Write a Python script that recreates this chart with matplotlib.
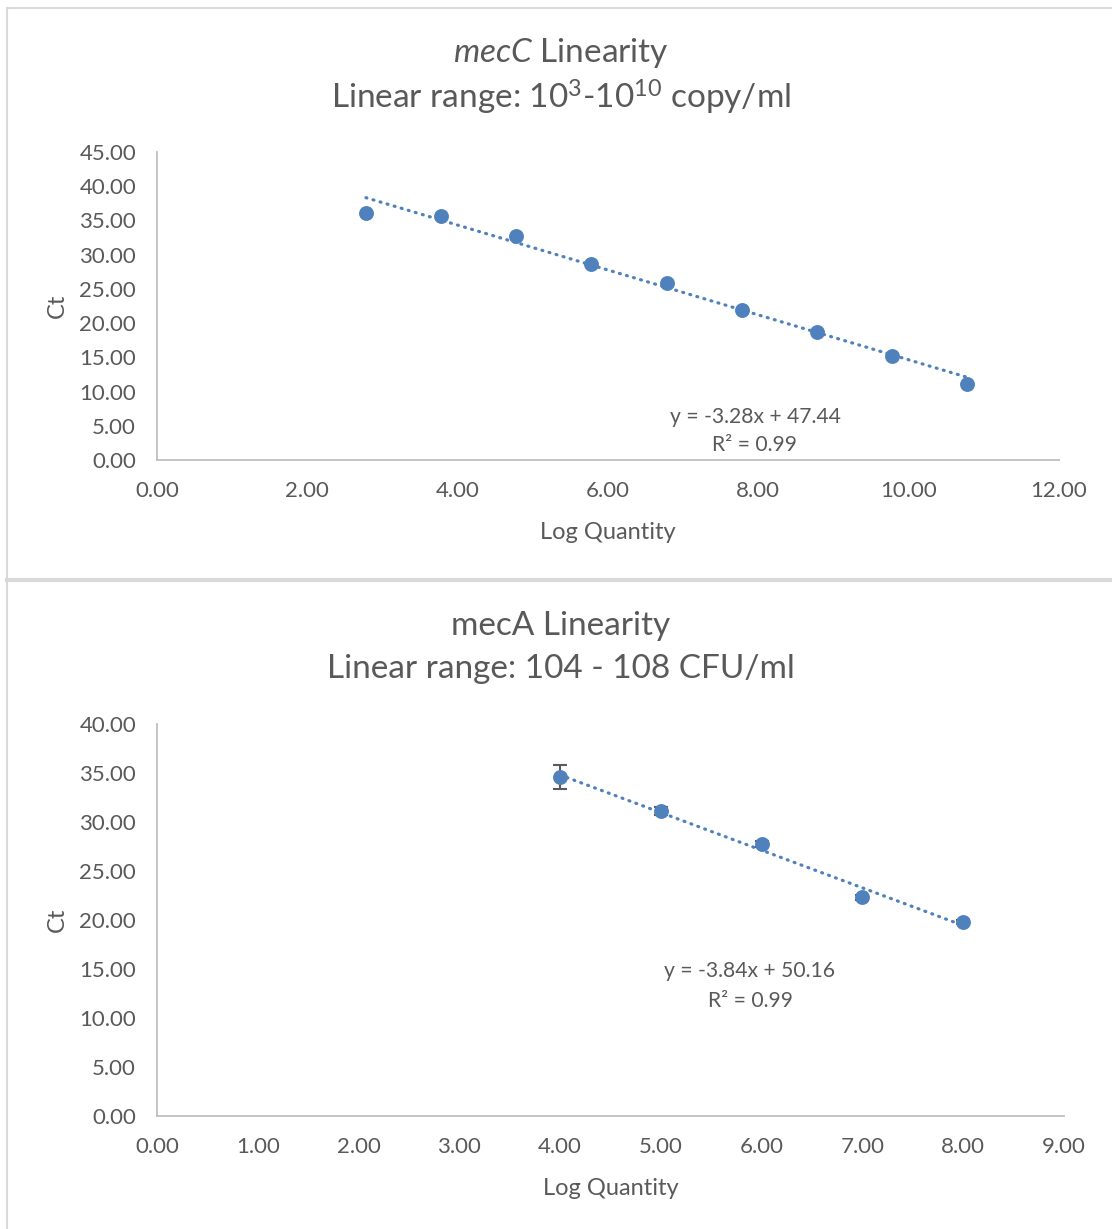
#!/usr/bin/env python3
"""mecC / mecA qPCR linearity standard curves (Excel-style)."""

import matplotlib as mpl
mpl.use("Agg")
import matplotlib.pyplot as plt
from matplotlib.lines import Line2D

# mecC standard curve
mecc_logq = [2.78, 3.78, 4.78, 5.78, 6.78, 7.78, 8.78, 9.78, 10.78]
mecc_ct = [36.1, 35.7, 32.7, 28.7, 25.8, 21.9, 18.7, 15.2, 11.1]
mecc_slope, mecc_icpt = -3.28, 47.44

# mecA standard curve
meca_logq = [4.0, 5.0, 6.0, 7.0, 8.0]
meca_ct = [34.6, 31.1, 27.8, 22.3, 19.8]
meca_err = [1.2, 0.4, 0.3, 0.3, 0.2]
meca_slope, meca_icpt = -3.84, 50.16

W, H = 1112, 1229
GREY_TXT = "#595959"
AXIS = "#BFBFBF"
FRAME = "#D9D9D9"
BLUE = "#4F81BD"

mpl.rcParams.update(
    {
        "font.family": ["Lato", "DejaVu Sans"],
        "mathtext.fontset": "custom",
        "mathtext.rm": "Lato",
        "mathtext.it": "Lato:italic",
        "mathtext.bf": "Lato:bold",
        "text.color": GREY_TXT,
    }
)


def px_axes(fig, left, top, right, bottom):
    return fig.add_axes([left / W, 1 - bottom / H, (right - left) / W, (bottom - top) / H])


def ftext(fig, x, y, s, size, **kw):
    # place text at pixel position (from top-left) of the figure
    fig.text(x / W, 1 - y / H, s, ha="center", va="center", fontsize=size, **kw)


def style(ax, xmax, xstep, ymax, ystep):
    ax.set_xlim(0, xmax)
    ax.set_ylim(0, ymax)
    ax.set_xticks([i * xstep for i in range(int(round(xmax / xstep)) + 1)])
    ax.set_yticks([i * ystep for i in range(int(round(ymax / ystep)) + 1)])
    ax.xaxis.set_major_formatter(mpl.ticker.StrMethodFormatter("{x:.2f}"))
    ax.yaxis.set_major_formatter(mpl.ticker.StrMethodFormatter("{x:.2f}"))
    for s in ("top", "right"):
        ax.spines[s].set_visible(False)
    for s in ("left", "bottom"):
        ax.spines[s].set_color(AXIS)
        ax.spines[s].set_linewidth(1.3)
    ax.tick_params(length=0, labelsize=16, colors=GREY_TXT)
    ax.tick_params(axis="x", pad=15)
    ax.tick_params(axis="y", pad=15)
    ax.set_xlabel("Log Quantity", fontsize=17, color=GREY_TXT, labelpad=15.5)
    ax.set_ylabel("Ct", fontsize=17, color=GREY_TXT, labelpad=8)


def trend(ax, xs, slope, icpt):
    x0, x1 = min(xs), max(xs)
    ax.plot([x0, x1], [slope * x0 + icpt, slope * x1 + icpt], color=BLUE,
            lw=2.3, ls=(0, (0.3, 2.0)), dash_capstyle="round", zorder=2)


fig = plt.figure(figsize=(W / 100, H / 100), dpi=100)

# chart frames
fig.add_artist(Line2D([7 / W, 7 / W], [0, 1 - 8 / H], transform=fig.transFigure,
                      color=FRAME, lw=1.5))
fig.add_artist(Line2D([7 / W, 1], [1 - 8 / H, 1 - 8 / H], transform=fig.transFigure,
                      color=FRAME, lw=1.5))
fig.add_artist(Line2D([7 / W, 1], [1 - 580 / H, 1 - 580 / H], transform=fig.transFigure,
                      color=FRAME, lw=3))

# top: mecC
ax = px_axes(fig, 157, 152, 1059, 460)
style(ax, 12, 2, 45, 5)
trend(ax, mecc_logq, mecc_slope, mecc_icpt)
ax.scatter(mecc_logq, mecc_ct, s=115, color=BLUE, zorder=3, linewidths=0)
ftext(fig, 755, 417, f"y = {mecc_slope:.2f}x + {mecc_icpt:.2f}", 15.2)
ftext(fig, 755, 445, "R² = 0.99", 15.2)
ftext(fig, 561, 53, r"$\it{mecC}$ Linearity", 24)
ftext(fig, 561, 97, r"Linear range: 10$^{3}$-10$^{10}$ copy/ml", 24)

# bottom: mecA
ax = px_axes(fig, 157, 724, 1064, 1116)
style(ax, 9, 1, 40, 5)
trend(ax, meca_logq, meca_slope, meca_icpt)
ax.errorbar(meca_logq, meca_ct, yerr=meca_err, fmt="none", ecolor="#595959",
            elinewidth=1.5, capsize=5, capthick=1.5, zorder=2.5)
ax.scatter(meca_logq, meca_ct, s=115, color=BLUE, zorder=3, linewidths=0)
ftext(fig, 750, 971, f"y = {meca_slope:.2f}x + {meca_icpt:.2f}", 15.2)
ftext(fig, 750, 1001, "R² = 0.99", 15.2)
ftext(fig, 561, 626, "mecA Linearity", 24)
ftext(fig, 561, 669, "Linear range: 104 - 108 CFU/ml", 24)

fig.savefig("out.png", dpi=100)
